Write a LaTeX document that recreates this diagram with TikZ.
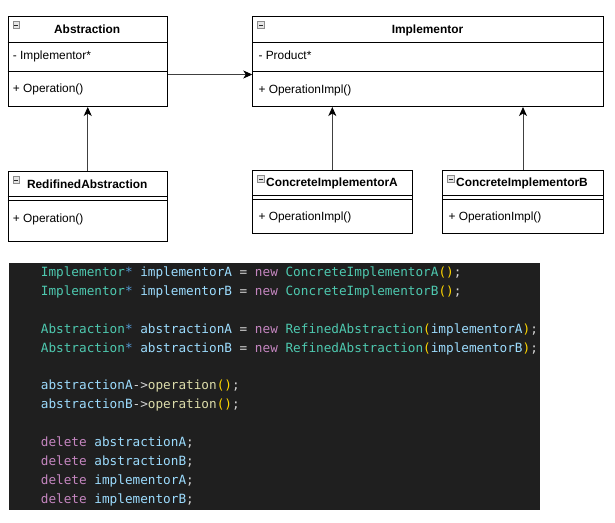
\documentclass[tikz,border=0pt]{standalone}
\usepackage{fontspec}
\setmainfont{Liberation Sans}
\newfontfamily\codefont{DejaVu Sans Mono}
\usetikzlibrary{arrows.meta}
\definecolor{codebg}{HTML}{1F1F1F}
\definecolor{ctype}{HTML}{4EC9B0}
\definecolor{cvarc}{HTML}{9CDCFE}
\definecolor{ckwc}{HTML}{C586C0}
\definecolor{copc}{HTML}{D4D4D4}
\definecolor{cfnc}{HTML}{DCDCAA}
\definecolor{cbrc}{HTML}{FFD700}
\definecolor{cstc}{HTML}{569CD6}
\newcommand\cty[1]{\textcolor{ctype}{#1}}
\newcommand\cvr[1]{\textcolor{cvarc}{#1}}
\newcommand\ckw[1]{\textcolor{ckwc}{#1}}
\newcommand\cop[1]{\textcolor{copc}{#1}}
\newcommand\cfn[1]{\textcolor{cfnc}{#1}}
\newcommand\cbr[1]{\textcolor{cbrc}{#1}}
\newcommand\cst[1]{\textcolor{cstc}{#1}}
\tikzset{
  umlbox/.style={draw=black, line width=1bp, inner sep=0pt, anchor=north west},
  txt/.style={inner sep=0pt, anchor=base west, font=\fontsize{11.9bp}{14bp}\selectfont},
  hdr/.style={inner sep=0pt, anchor=base, font=\fontsize{11.9bp}{14bp}\selectfont\bfseries},
  sep/.style={draw=black, line width=1bp},
  icon/.style={draw=black!45, fill=black!10, line width=0.8bp, inner sep=0pt, minimum size=6.6bp, anchor=north west,
    path picture={\draw[black!85, line width=1bp] ([xshift=1.3bp]path picture bounding box.west) -- ([xshift=-1.3bp]path picture bounding box.east);}},
  arr/.style={draw=black!75, line width=1bp, -{Stealth[length=9bp,width=8bp,inset=2.5bp,black]}},
  codeln/.style={inner sep=0pt, anchor=base west, font=\fontsize{12.7bp}{15bp}\codefont},
}
\begin{document}
\begin{tikzpicture}[x=1bp,y=-1bp]
\useasboundingbox (0,0) rectangle (615,523);
% ---------- Abstraction
\node[umlbox, minimum width=159.5bp, minimum height=90bp] (abs) at (7.5,16) {};
\draw[sep] (abs.west |- 0,42.5) -- (abs.east |- 0,42.5);
\draw[sep] (abs.west |- 0,72) -- (abs.east |- 0,72);
\node[icon] (absicon) at (12.5,21.5) {};
\node[hdr] (abst) at (87.2,33.8) {Abstraction};
\node[txt] (absa) at (12.7,60) {- Implementor*};
\node[txt] (absm) at (12.7,93) {+ Operation()};
% ---------- RedifinedAbstraction
\node[umlbox, minimum width=159.5bp, minimum height=70bp] (red) at (7.5,171) {};
\draw[sep] (red.west |- 0,197) -- (red.east |- 0,197);
\draw[sep] (red.west |- 0,200.3) -- (red.east |- 0,200.3);
\node[icon] (redicon) at (12.5,176.5) {};
\node[hdr] (redt) at (87.2,188.3) {RedifinedAbstraction};
\node[txt] (redm) at (12.7,222.3) {+ Operation()};
% ---------- Implementor
\node[umlbox, minimum width=350.4bp, minimum height=90bp] (impl) at (252.3,16) {};
\draw[sep] (impl.west |- 0,42.5) -- (impl.east |- 0,42.5);
\draw[sep] (impl.west |- 0,72) -- (impl.east |- 0,72);
\node[icon] (implicon) at (257.4,21.4) {};
\node[hdr] (implt) at (427.5,33.8) {Implementor};
\node[txt] (impla) at (258.3,60) {- Product*};
\node[txt] (implm) at (258.3,93.5) {+ OperationImpl()};
% ---------- ConcreteImplementorA
\node[umlbox, minimum width=160bp, minimum height=63bp] (cia) at (252.3,170) {};
\draw[sep] (cia.west |- 0,195.7) -- (cia.east |- 0,195.7);
\draw[sep] (cia.west |- 0,199.3) -- (cia.east |- 0,199.3);
\node[icon] (ciaicon) at (257.4,175.4) {};
\node[hdr] (ciat) at (332,187) {ConcreteImplementorA};
\node[txt] (ciam) at (258.3,220.8) {+ OperationImpl()};
% ---------- ConcreteImplementorB
\node[umlbox, minimum width=160.4bp, minimum height=63bp] (cib) at (442.3,170) {};
\draw[sep] (cib.west |- 0,195.7) -- (cib.east |- 0,195.7);
\draw[sep] (cib.west |- 0,199.3) -- (cib.east |- 0,199.3);
\node[icon] (cibicon) at (447.4,175.4) {};
\node[hdr] (cibt) at (522,187) {ConcreteImplementorB};
\node[txt] (cibm) at (448.3,220.8) {+ OperationImpl()};
% ---------- connectors
\draw[arr] (abs.east |- 0,74.5) -- (impl.west |- 0,74.5);
\draw[arr] (red.north) -- (abs.south);
\draw[arr] (cia.north -| 332.3,0) -- (impl.south -| 332.3,0);
\draw[arr] (cib.north) -- (impl.south -| cib.north);
% ---------- code
\fill[codebg] (9,263) rectangle (540,510);
\node[codeln] (l1) at (40.7,276.5) {\cty{Implementor}\cst{*} \cvr{implementorA} \cop{=} \ckw{new} \cty{ConcreteImplementorA}\cbr{()}\cop{;}};
\node[codeln] (l2) at (40.7,295.4) {\cty{Implementor}\cst{*} \cvr{implementorB} \cop{=} \ckw{new} \cty{ConcreteImplementorB}\cbr{()}\cop{;}};
\node[codeln] (l4) at (40.7,333.2) {\cty{Abstraction}\cst{*} \cvr{abstractionA} \cop{=} \ckw{new} \cty{RefinedAbstraction}\cbr{(}\cvr{implementorA}\cbr{)}\cop{;}};
\node[codeln] (l5) at (40.7,352.1) {\cty{Abstraction}\cst{*} \cvr{abstractionB} \cop{=} \ckw{new} \cty{RefinedAbstraction}\cbr{(}\cvr{implementorB}\cbr{)}\cop{;}};
\node[codeln] (l7) at (40.7,389.9) {\cvr{abstractionA}\cop{->}\cfn{operation}\cbr{()}\cop{;}};
\node[codeln] (l8) at (40.7,408.8) {\cvr{abstractionB}\cop{->}\cfn{operation}\cbr{()}\cop{;}};
\node[codeln] (l10) at (40.7,446.6) {\ckw{delete} \cvr{abstractionA}\cop{;}};
\node[codeln] (l11) at (40.7,465.5) {\ckw{delete} \cvr{abstractionB}\cop{;}};
\node[codeln] (l12) at (40.7,484.4) {\ckw{delete} \cvr{implementorA}\cop{;}};
\node[codeln] (l13) at (40.7,503.3) {\ckw{delete} \cvr{implementorB}\cop{;}};
\end{tikzpicture}
\end{document}
